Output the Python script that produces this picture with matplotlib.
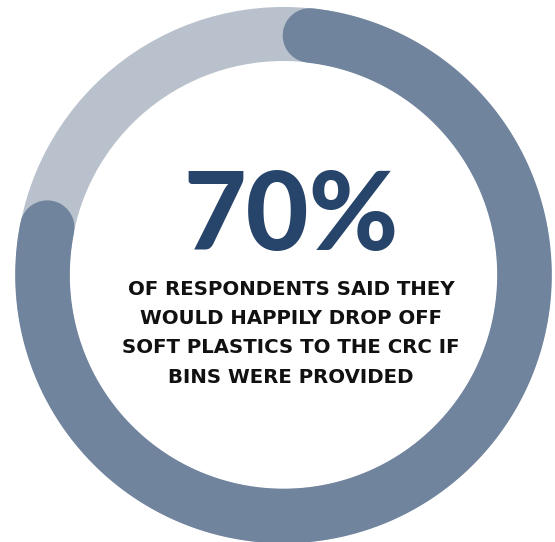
import numpy as np
import matplotlib
matplotlib.use("Agg")
import matplotlib.pyplot as plt
from matplotlib.patches import Wedge

# data
big_label = "70%"
ring_values = [76.4, 23.6]       # share of the ring drawn dark / light
body_lines = ["OF RESPONDENTS SAID THEY",
              "WOULD HAPPILY DROP OFF",
              "SOFT PLASTICS TO THE CRC IF",
              "BINS WERE PROVIDED"]

W, H, DPI = 555, 542, 100
fig = plt.figure(figsize=(W / DPI, H / DPI), dpi=DPI)
ax = fig.add_axes([0, 0, 1, 1])
ax.set_xlim(0, W)
ax.set_ylim(H, 0)
ax.set_aspect("equal")
ax.axis("off")

cx, cy = 283.5, 275
r_out = 268
ring_w = 54
r_mid = r_out - ring_w / 2

# background track (light)
ax.add_patch(Wedge((cx, cy), r_out, 0, 360, width=ring_w,
                   facecolor="#b8c1cc", edgecolor="none", zorder=1))

# value arc (clockwise from near top), round caps
start_deg = 6.3
span = ring_values[0] / sum(ring_values) * 360
th = np.deg2rad(np.linspace(start_deg, start_deg + span, 800))
ax.plot(cx + r_mid * np.sin(th), cy - r_mid * np.cos(th), color="#71849e",
        lw=(ring_w + 0.6) * 72 / DPI, solid_capstyle="round", zorder=2)

ax.text(291, 250, big_label, ha="center", va="baseline", fontsize=78,
        fontweight="black", family="Lato", color="#27446b", zorder=3)

baselines = [295, 324, 353, 383]
for line, yb in zip(body_lines, baselines):
    ax.text(291, yb, line, ha="center", va="baseline", fontsize=14.2,
            fontweight="bold", family="DejaVu Sans", color="#111111", zorder=3)

fig.savefig("out.png", dpi=DPI)
